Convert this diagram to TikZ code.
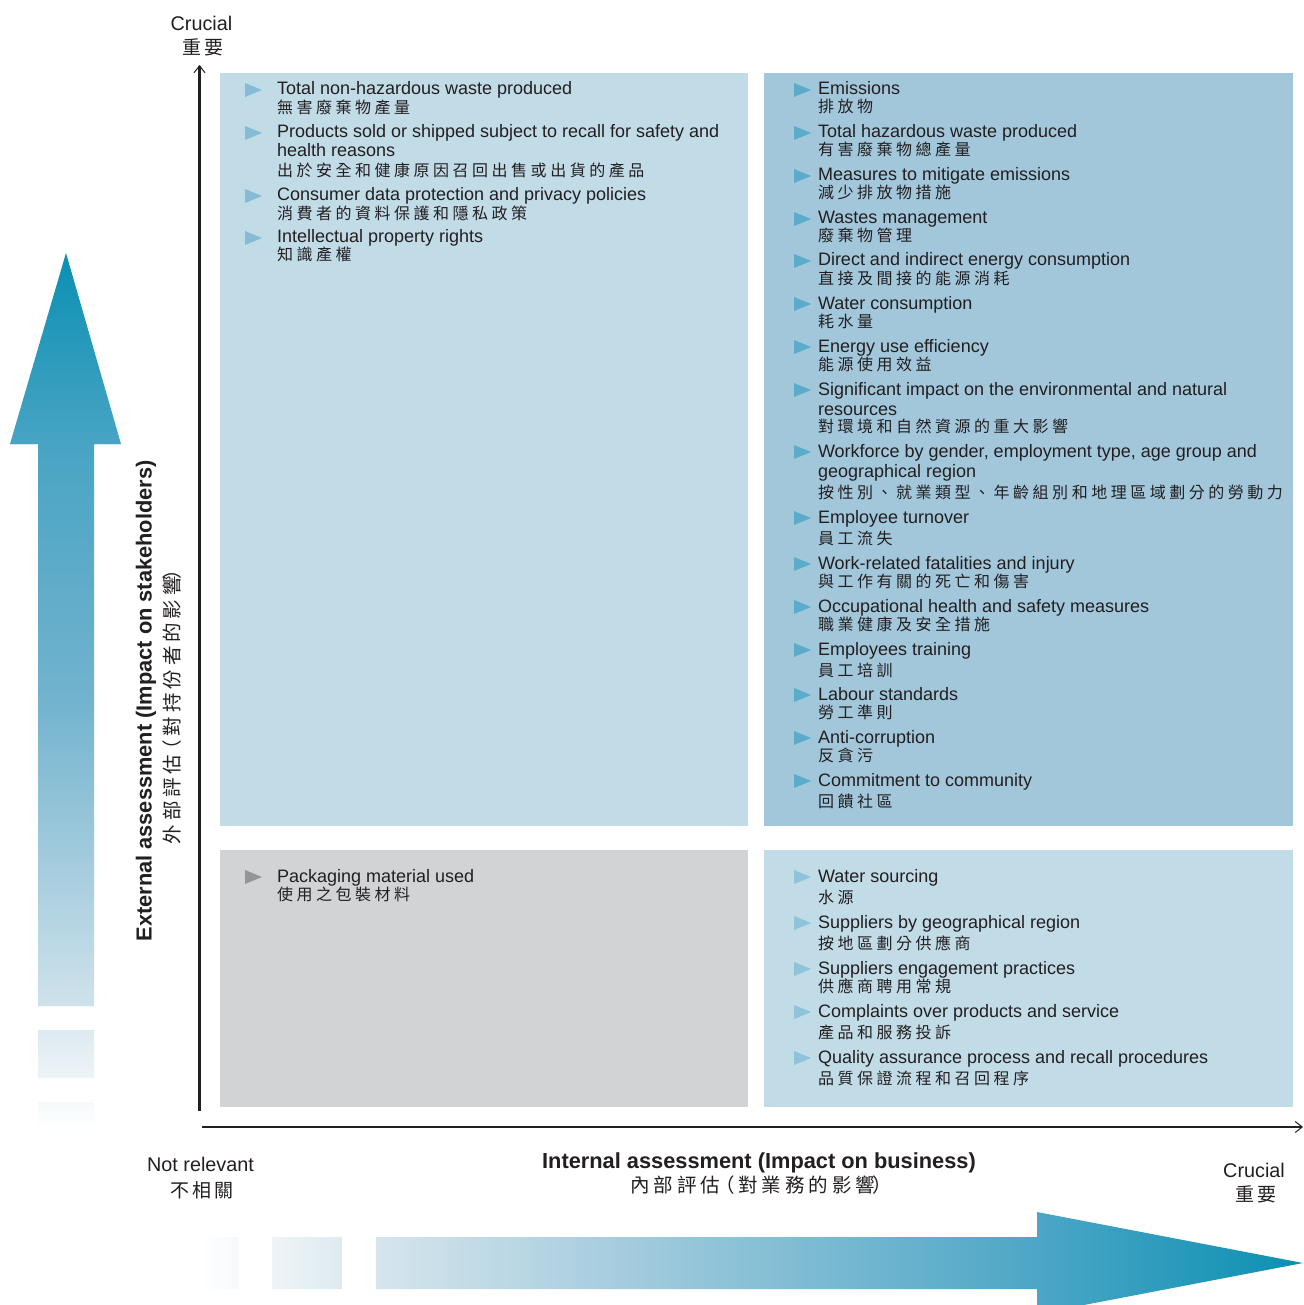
\documentclass[tikz,border=0pt]{standalone}
\usepackage{fontspec}
\setmainfont{Liberation Sans}
\newfontfamily\cjk[LetterSpace=22]{Noto Sans CJK TC}
\newfontfamily\cjkl[LetterSpace=16]{Noto Sans CJK TC}
\newfontfamily\cjkt[LetterSpace=20]{Noto Sans CJK TC}
\usetikzlibrary{arrows.meta}
\definecolor{txt}{HTML}{231F20}
\definecolor{boxlight}{HTML}{C1DBE7}
\definecolor{boxdark}{HTML}{A2C7DB}
\definecolor{boxgrey}{HTML}{D1D3D4}
\definecolor{bulTL}{HTML}{84BCD6}
\definecolor{bulTR}{HTML}{5BABCB}
\definecolor{bulBR}{HTML}{8EC3DA}
\definecolor{bulBL}{HTML}{939598}
\definecolor{gA}{HTML}{0A90B2}
\definecolor{gB}{HTML}{48A4C4}
\definecolor{gC}{HTML}{72B3CE}
\definecolor{gD}{HTML}{CFE2EB}
\definecolor{gE}{HTML}{D5E5ED}
\definecolor{gF}{HTML}{A9CEDF}
\definecolor{gG}{HTML}{4CA6C6}
\newcounter{ln}
\newcommand\EnLine[3]{\stepcounter{ln}\node[enline] (ln\theln) at (#1,#2) {#3};}
\newcommand\ZhLine[3]{\stepcounter{ln}\node[zhline] (ln\theln) at (#1,#2) {#3};}
\newcommand\Bul[3]{\fill[#1] (#2,#3-12) -- (#2+17,#3-5) -- (#2,#3+2) -- cycle;}
\tikzset{
  enline/.style={anchor=base west, inner sep=0pt, outer sep=0pt, text=txt, font=\fontsize{18}{20}\selectfont},
  zhline/.style={anchor=base west, inner sep=0pt, outer sep=0pt, text=txt, font=\cjk\fontsize{16}{20}\selectfont},
  lbl/.style={anchor=base, inner sep=0pt, text=txt, font=\fontsize{19.8}{22}\selectfont},
  zhlbl/.style={anchor=base, inner sep=0pt, text=txt, font=\cjkl\fontsize{19}{22}\selectfont},
  zhttl/.style={anchor=base, inner sep=0pt, text=txt, font=\cjkt\fontsize{19.5}{22}\selectfont},
  ttl/.style={anchor=base, inner sep=0pt, text=txt, font=\bfseries\fontsize{21.8}{24}\selectfont},
  axisline/.style={draw=txt, line width=2.2pt, -{Straight Barb[length=7pt,width=11pt,line width=1pt]}}
}
\begin{document}
\begin{tikzpicture}[x=1pt,y=-1pt]
\clip (0,0) rectangle (1303,1305);
\fill[white] (0,0) rectangle (1303,1305);
% quadrant boxes
\fill[boxlight] (220,73) rectangle (748,826);
\fill[boxdark] (764,73) rectangle (1293,826);
\fill[boxgrey] (220,850) rectangle (748,1107);
\fill[boxlight] (764,850) rectangle (1293,1107);
% vertical gradient arrow
\begin{scope}
\clip (10,444) -- (66,253) -- (121,444) -- (94,444) -- (94,1006) -- (38,1006) -- (38,444) -- cycle
      (38,1030) rectangle (94,1078)
      (38,1102) rectangle (94,1126);
\shade[top color=gA, bottom color=gB] (0,252) rectangle (130,444.5);
\shade[top color=gB, bottom color=gC] (0,444) rectangle (130,700.5);
\shade[top color=gC, bottom color=gD] (0,700) rectangle (130,1006.5);
\shade[top color=gE, bottom color=white] (0,1006) rectangle (130,1130);
\end{scope}
% horizontal gradient arrow
\begin{scope}
\clip (203,1237) rectangle (238,1289)
      (272,1237) rectangle (342,1289)
      (376,1237) -- (1037,1237) -- (1037,1212) -- (1303,1263) -- (1037,1314) -- (1037,1289) -- (376,1289) -- cycle;
\shade[left color=white, right color=gE] (200,1200) rectangle (376.5,1320);
\shade[left color=gE, right color=gF] (376,1200) rectangle (600.5,1320);
\shade[left color=gF, right color=gG] (600,1200) rectangle (1037.5,1320);
\shade[left color=gG, right color=gA] (1037,1200) rectangle (1304,1320);
\end{scope}
% axes
\coordinate (vbot) at (199.5,1110.5);
\coordinate (vtop) at (199.5,65);
\coordinate (hl) at (201.5,1127);
\coordinate (hr) at (1303,1127);
\draw[axisline] (vbot) -- (vtop);
\draw[axisline] (hl) -- (hr);
% axis labels
\node[lbl] (cruT) at (201.5,30.7) {Crucial};
\node[zhlbl] (cruTz) at (203,54.2) {重要};
\node[lbl] (notR) at (200.5,1171.7) {Not relevant};
\node[zhlbl] (notRz) at (202,1197.2) {不相關};
\node[lbl] (cruR) at (1254,1177.3) {Crucial};
\node[zhlbl] (cruRz) at (1255.5,1201.5) {重要};
\node[ttl] (intT) at (759,1168) {Internal assessment (Impact on business)};
\node[zhttl] (intZ) at (761,1192) {內部評估\kern-5pt（對業務的影響\kern-3pt）};
\node[ttl, rotate=90] (extT) at (151.5,701) {External assessment (Impact on stakeholders)};
\node[zhttl, rotate=90] (extZ) at (179,702) {外部評估\kern-5pt（對持份者的影響\kern-3pt）};
% top-left quadrant
\Bul{bulTL}{245}{95}
\EnLine{277}{95}{Total non-hazardous waste produced}
\ZhLine{277}{113.5}{無害廢棄物產量}
\Bul{bulTL}{245}{138}
\EnLine{277}{138}{Products sold or shipped subject to recall for safety and}
\EnLine{277}{157}{health reasons}
\ZhLine{277}{176.8}{出於安全和健康原因召回出售或出貨的產品}
\Bul{bulTL}{245}{201}
\EnLine{277}{201}{Consumer data protection and privacy policies}
\ZhLine{277}{220}{消費者的資料保護和隱私政策}
\Bul{bulTL}{245}{243}
\EnLine{277}{243}{Intellectual property rights}
\ZhLine{277}{261}{知識產權}
% top-right quadrant
\Bul{bulTR}{794}{95}
\EnLine{818}{95}{Emissions}
\ZhLine{818}{113}{排放物}
\Bul{bulTR}{794}{138}
\EnLine{818}{138}{Total hazardous waste produced}
\ZhLine{818}{156}{有害廢棄物總產量}
\Bul{bulTR}{794}{181}
\EnLine{818}{181}{Measures to mitigate emissions}
\ZhLine{818}{199}{減少排放物措施}
\Bul{bulTR}{794}{224}
\EnLine{818}{224}{Wastes management}
\ZhLine{818}{242}{廢棄物管理}
\Bul{bulTR}{794}{266}
\EnLine{818}{266}{Direct and indirect energy consumption}
\ZhLine{818}{284}{直接及間接的能源消耗}
\Bul{bulTR}{794}{309}
\EnLine{818}{309}{Water consumption}
\ZhLine{818}{327}{耗水量}
\Bul{bulTR}{794}{352}
\EnLine{818}{352}{Energy use efficiency}
\ZhLine{818}{370}{能源使用效益}
\Bul{bulTR}{794}{395}
\EnLine{818}{395}{Significant impact on the environmental and natural}
\EnLine{818}{415}{resources}
\ZhLine{818}{432}{對環境和自然資源的重大影響}
\Bul{bulTR}{794}{457}
\EnLine{818}{457}{Workforce by gender, employment type, age group and}
\EnLine{818}{477}{geographical region}
\ZhLine{818}{498}{按性別、就業類型、年齡組別和地理區域劃分的勞動力}
\Bul{bulTR}{794}{523}
\EnLine{818}{523}{Employee turnover}
\ZhLine{818}{544}{員工流失}
\Bul{bulTR}{794}{569}
\EnLine{818}{569}{Work-related fatalities and injury}
\ZhLine{818}{587}{與工作有關的死亡和傷害}
\Bul{bulTR}{794}{612}
\EnLine{818}{612}{Occupational health and safety measures}
\ZhLine{818}{630}{職業健康及安全措施}
\Bul{bulTR}{794}{655}
\EnLine{818}{655}{Employees training}
\ZhLine{818}{676}{員工培訓}
\Bul{bulTR}{794}{700}
\EnLine{818}{700}{Labour standards}
\ZhLine{818}{718}{勞工準則}
\Bul{bulTR}{794}{743}
\EnLine{818}{743}{Anti-corruption}
\ZhLine{818}{761}{反貪污}
\Bul{bulTR}{794}{786}
\EnLine{818}{786}{Commitment to community}
\ZhLine{818}{807}{回饋社區}
% bottom-left quadrant
\Bul{bulBL}{245}{882}
\EnLine{277}{882}{Packaging material used}
\ZhLine{277}{900}{使用之包裝材料}
% bottom-right quadrant
\Bul{bulBR}{794}{882}
\EnLine{818}{882}{Water sourcing}
\ZhLine{818}{903}{水源}
\Bul{bulBR}{794}{928}
\EnLine{818}{928}{Suppliers by geographical region}
\ZhLine{818}{949}{按地區劃分供應商}
\Bul{bulBR}{794}{974}
\EnLine{818}{974}{Suppliers engagement practices}
\ZhLine{818}{992}{供應商聘用常規}
\Bul{bulBR}{794}{1017}
\EnLine{818}{1017}{Complaints over products and service}
\ZhLine{818}{1038}{產品和服務投訴}
\Bul{bulBR}{794}{1063}
\EnLine{818}{1063}{Quality assurance process and recall procedures}
\ZhLine{818}{1084}{品質保證流程和召回程序}
\end{tikzpicture}
\end{document}
